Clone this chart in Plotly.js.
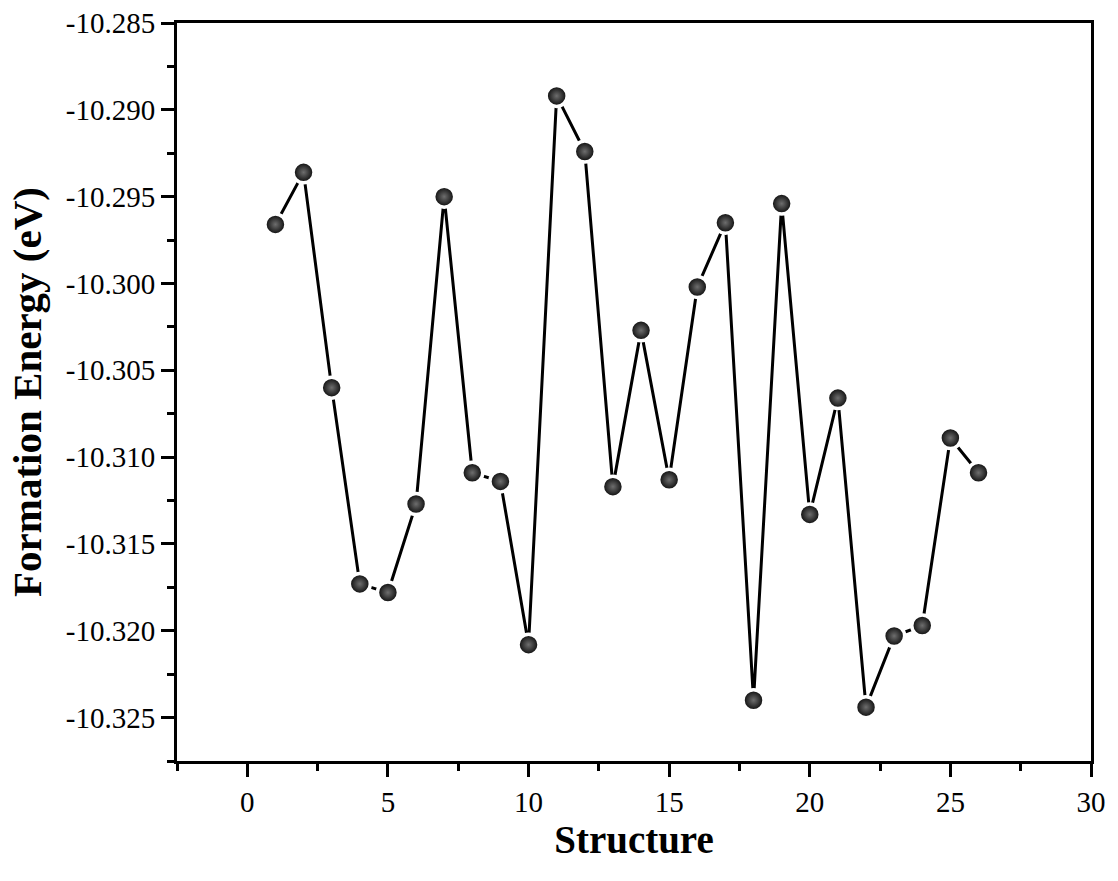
<!DOCTYPE html>
<html>
<head>
<meta charset="utf-8">
<script src="https://cdn.plot.ly/plotly-3.0.1.min.js"></script>
<style>html,body{margin:0;padding:0;background:#fff;}#chart{width:1118px;height:881px;}</style>
</head>
<body>
<div id="chart"></div>
<script>
const structures = [1,2,3,4,5,6,7,8,9,10,11,12,13,14,15,16,17,18,19,20,21,22,23,24,25,26];
const formationEnergy = [
  -10.2966, -10.2936, -10.3060, -10.3173, -10.3178, -10.3127, -10.2950, -10.3109,
  -10.3114, -10.3208, -10.2892, -10.2924, -10.3117, -10.3027, -10.3113, -10.3002,
  -10.2965, -10.3240, -10.2954, -10.3133, -10.3066, -10.3244, -10.3203, -10.3197,
  -10.3089, -10.3109
];
const yTickVals = [-10.285, -10.290, -10.295, -10.300, -10.305, -10.310, -10.315, -10.320, -10.325];
const yTickText = ['-10.285', '-10.290', '-10.295', '-10.300', '-10.305', '-10.310', '-10.315', '-10.320', '-10.325'];
const xTickVals = [0, 5, 10, 15, 20, 25, 30];
const xTickText = ['0', '5', '10', '15', '20', '25', '30'];
const xTitle = 'Structure';
const yTitle = 'Formation Energy (eV)';

const fontFamily = '"Liberation Serif", "Times New Roman", serif';

const trace = {
  x: structures,
  y: formationEnergy,
  type: 'scatter',
  mode: 'lines+markers',
  line: {color: '#000', width: 3},
  marker: {
    symbol: 'circle',
    size: 21,
    color: '#050505',
    gradient: {type: 'radial', color: '#6e6e6e'},
    line: {color: '#fff', width: 3.5}
  },
  hoverinfo: 'x+y'
};

const axisCommon = {
  showline: true, linecolor: '#000', linewidth: 3, mirror: true,
  ticks: 'outside', ticklen: 13, tickwidth: 3, tickcolor: '#000',
  showgrid: false, zeroline: false,
  tickfont: {family: fontFamily, size: 29, color: '#000'}
};

const layout = {
  width: 1118, height: 881,
  margin: {l: 177, r: 27, t: 23, b: 120},
  paper_bgcolor: '#fff', plot_bgcolor: '#fff',
  showlegend: false,
  xaxis: Object.assign({}, axisCommon, {
    range: [-2.5, 30], tickmode: 'array', tickvals: xTickVals, ticktext: xTickText,
    minor: {dtick: 2.5, tick0: 0, ticks: 'outside', ticklen: 7, tickwidth: 3, tickcolor: '#000'},
    title: {text: '<b>' + xTitle + '</b>', font: {family: fontFamily, size: 39, color: '#000'}, standoff: 0}
  }),
  yaxis: Object.assign({}, axisCommon, {
    range: [-10.3275, -10.285], tickmode: 'array', tickvals: yTickVals, ticktext: yTickText,
    minor: {dtick: 0.0025, tick0: -10.285, ticks: 'outside', ticklen: 7, tickwidth: 3, tickcolor: '#000'},
    title: {text: '<b>' + yTitle + '</b>', font: {family: fontFamily, size: 41, color: '#000'}, standoff: 12}
  })
};

Plotly.newPlot('chart', [trace], layout, {displayModeBar: false, staticPlot: true});
</script>
</body>
</html>
